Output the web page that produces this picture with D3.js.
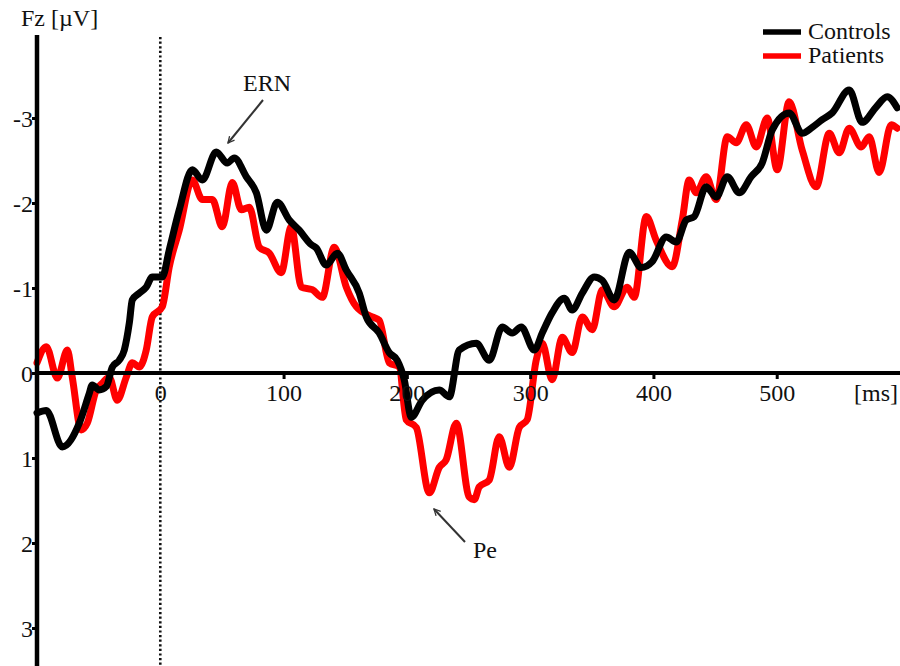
<!DOCTYPE html>
<html><head><meta charset="utf-8">
<script src="https://cdn.jsdelivr.net/npm/d3@7/dist/d3.min.js"></script>
<style>body{margin:0;background:#fff}svg{display:block}text{font-family:"Liberation Serif","Times New Roman",serif;fill:#111}</style>
</head><body>
<script>
// [ms, µV]
const controls = [[-100,0.47],[-92.5,0.44],[-79.5,0.87],[-65.7,0.59],[-57.6,0.24],[-55.2,0.14],[-49.5,0.20],[-43.8,0.16],[-38.9,-0.07],[-33.3,-0.15],[-29.2,-0.27],[-25.1,-0.59],[-22.7,-0.86],[-17.0,-0.94],[-11.4,-1.01],[-6.5,-1.13],[1.6,-1.13],[7.3,-1.45],[15.4,-1.92],[26.0,-2.39],[34.1,-2.27],[45.4,-2.60],[54.3,-2.47],[60.0,-2.53],[69.7,-2.31],[77.9,-2.12],[86.0,-1.68],[94.9,-2.01],[104.6,-1.80],[112.7,-1.68],[122.5,-1.51],[126.5,-1.47],[134.6,-1.27],[143.6,-1.41],[150.9,-1.21],[161.4,-0.94],[167.1,-0.66],[177.6,-0.47],[185.7,-0.24],[192.2,-0.15],[197.9,0.08],[203.6,0.52],[212.5,0.32],[226.3,0.20],[234.4,0.28],[242.5,-0.27],[256.3,-0.35],[266.8,-0.15],[277.4,-0.54],[285.5,-0.47],[292.8,-0.54],[303.3,-0.27],[309.8,-0.47],[317.9,-0.71],[327.7,-0.88],[334.1,-0.74],[342.3,-0.94],[352.0,-1.13],[358.5,-1.09],[368.2,-0.86],[380.4,-1.42],[390.1,-1.24],[399.0,-1.31],[410.4,-1.60],[418.5,-1.54],[426.6,-1.80],[433.1,-1.84],[442.8,-2.19],[450.9,-2.07],[459.9,-2.31],[469.6,-2.12],[479.3,-2.31],[488.2,-2.47],[496.4,-2.86],[510.1,-3.06],[520.7,-2.82],[528.8,-2.89],[536.9,-2.98],[545.0,-3.06],[558.8,-3.33],[569.3,-2.95],[580.7,-3.13],[589.6,-3.25],[597.7,-3.12]];
const patients = [[-100,-0.12],[-92.5,-0.31],[-83.5,0.06],[-75.4,-0.27],[-71.4,0.05],[-64.1,0.67],[-59.2,0.59],[-51.9,0.20],[-47.0,0.12],[-41.4,0.05],[-34.9,0.32],[-27.6,0.05],[-22.7,-0.12],[-17.0,-0.07],[-11.4,-0.27],[-6.5,-0.66],[1.6,-0.78],[7.3,-1.25],[15.4,-1.68],[26.0,-2.27],[34.1,-2.04],[42.2,-2.04],[50.3,-1.72],[58.4,-2.24],[65.7,-1.92],[72.2,-1.95],[80.3,-1.48],[88.4,-1.41],[98.1,-1.18],[106.2,-1.72],[114.4,-1.01],[123.3,-0.98],[131.4,-0.89],[141.1,-1.48],[150.9,-1.01],[159.0,-0.78],[171.9,-0.66],[177.6,-0.62],[185.7,-0.12],[193.8,-0.07],[199.5,0.55],[207.6,0.64],[218.2,1.41],[226.3,1.11],[231.9,1.02],[240.1,0.59],[250.6,1.46],[254.7,1.49],[258.7,1.34],[266.8,1.26],[274.9,0.75],[283.1,1.11],[291.2,0.64],[297.6,0.55],[304.9,-0.15],[309.8,-0.35],[317.9,0.08],[326.0,-0.42],[334.1,-0.24],[342.3,-0.66],[350.4,-0.51],[358.5,-0.98],[368.2,-0.78],[378.8,-1.01],[384.4,-0.89],[394.2,-1.84],[402.3,-1.56],[415.2,-1.25],[423.4,-1.80],[429.0,-2.27],[434.7,-2.12],[442.8,-2.31],[450.9,-2.04],[459.9,-2.78],[467.2,-2.71],[475.3,-2.92],[483.4,-2.66],[492.3,-3.00],[500.4,-2.39],[510.1,-3.19],[520.7,-2.62],[532.0,-2.19],[542.6,-2.82],[550.7,-2.59],[558.8,-2.88],[568.5,-2.66],[575.0,-2.78],[583.1,-2.36],[592.9,-2.92],[597.7,-2.88]];
const xTicks = [0,100,200,300,400,500];
const yTicks = [-3,-2,-1,0,1,2,3];
const seriesNames = ["Controls","Patients"];
const seriesColors = ["#000000","#ff0000"];

const W=900,H=666,FS=24;
const svg=d3.select("body").append("svg").attr("width",W).attr("height",H);
const x=d3.scaleLinear().domain([-100,600]).range([37,900]);
const y=d3.scaleLinear().domain([0,1]).range([373,458]);

// dotted zero line
svg.append("line").attr("x1",x(0)).attr("x2",x(0)).attr("y1",37).attr("y2",H)
  .attr("stroke","#111").attr("stroke-width",2.6).attr("stroke-dasharray","2.2,2.4");

// curves (patients first, controls on top)
const line=d3.line().x(d=>x(d[0])).y(d=>y(d[1])).curve(d3.curveMonotoneX);
[[patients,1],[controls,0]].forEach(([s,i])=>{
  svg.append("path").datum(s).attr("d",line).attr("fill","none")
    .attr("stroke",seriesColors[i]).attr("stroke-width",7).attr("stroke-linejoin","round").attr("stroke-linecap","round");
});

// x axis
const xAxis=d3.axisBottom(x).tickValues(xTicks).tickSize(6).tickSizeOuter(0).tickFormat(d3.format("d"));
const gx=svg.append("g").attr("transform",`translate(0,${y(0)})`).call(xAxis);
gx.select(".domain").attr("stroke","#000").attr("stroke-width",4).attr("d",`M${x(-100)},0H${x(600)}`);
gx.selectAll(".tick line").attr("stroke","#000").attr("stroke-width",3).attr("y1",0);
gx.selectAll(".tick").filter(d=>d===0).select("line").remove();
gx.selectAll(".tick text").attr("font-size",FS).attr("dy",0).attr("y",28).attr("font-family","Liberation Serif").attr("fill","#111");

// y axis
const yAxis=d3.axisLeft(y).tickValues(yTicks).tickSize(5).tickSizeOuter(0).tickFormat(d=>d3.format("d")(d).replace("−","-"));
const gy=svg.append("g").attr("transform",`translate(${x(-100)},0)`).call(yAxis);
gy.select(".domain").attr("stroke","#000").attr("stroke-width",4.5).attr("d",`M0,35V${H}`);
gy.selectAll(".tick line").attr("stroke","#000").attr("stroke-width",3);
gy.selectAll(".tick text").attr("font-size",FS).attr("x",-4).attr("dy","0.34em").attr("font-family","Liberation Serif").attr("fill","#111");

// axis labels
svg.append("text").attr("x",21).attr("y",26).attr("font-size",FS).text("Fz [µV]");
svg.append("text").attr("x",898).attr("y",401).attr("text-anchor","end").attr("font-size",FS).text("[ms]");

// legend
seriesNames.forEach((n,i)=>{
  const ly=32+i*24;
  svg.append("line").attr("x1",763).attr("x2",801).attr("y1",ly).attr("y2",ly).attr("stroke",seriesColors[i]).attr("stroke-width",5.5);
  svg.append("text").attr("x",808).attr("y",ly+7).attr("font-size",FS).text(n);
});

// annotations
const defs=svg.append("defs");
defs.append("marker").attr("id","ah").attr("viewBox","0 0 10 10").attr("refX",9).attr("refY",5)
  .attr("markerWidth",8).attr("markerHeight",8).attr("orient","auto").attr("markerUnits","userSpaceOnUse")
  .append("path").attr("d","M1,1L9,5L1,9").attr("fill","none").attr("stroke","#333").attr("stroke-width",1.6);
function arrow(x1,y1,x2,y2){
  svg.append("line").attr("x1",x1).attr("y1",y1).attr("x2",x2).attr("y2",y2).attr("stroke","#333").attr("stroke-width",2).attr("marker-end","url(#ah)");
}
svg.append("text").attr("x",243).attr("y",91).attr("font-size",FS).text("ERN");
arrow(263,100,228,143);
svg.append("text").attr("x",473).attr("y",558).attr("font-size",FS).text("Pe");
arrow(465,542,434,509);
</script>
</body></html>
